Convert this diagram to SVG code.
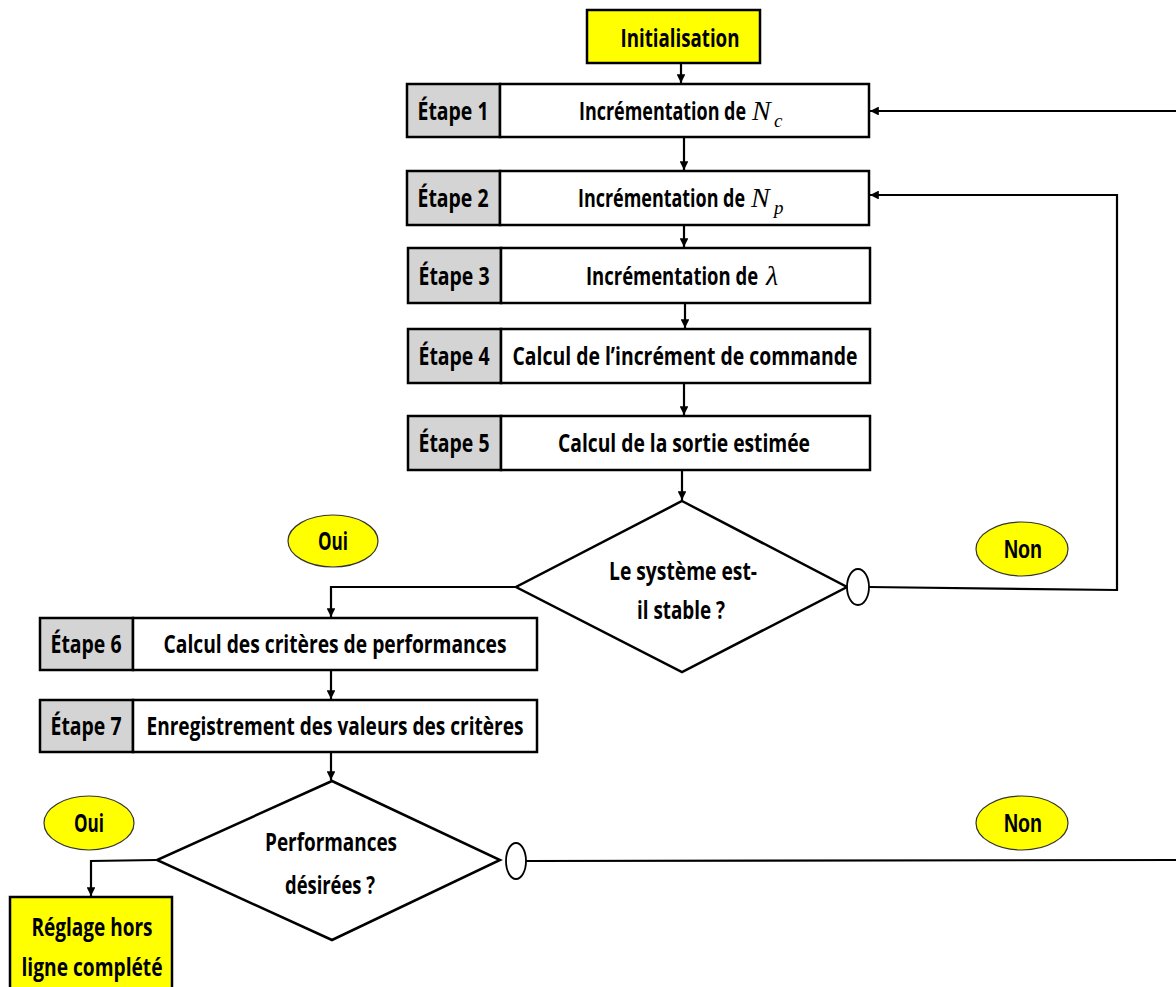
<svg xmlns="http://www.w3.org/2000/svg" width="1176" height="987" viewBox="0 0 1176 987">
<style>
.t{font-family:"Open Sans","Liberation Sans",sans-serif;font-weight:bold;font-size:25px;fill:#000;text-anchor:middle}
.s{text-anchor:start}
.m{font-family:"Liberation Serif","DejaVu Serif",serif;font-style:italic;font-size:28px;fill:#000}
.ms{font-family:"Liberation Serif","DejaVu Serif",serif;font-style:italic;font-size:19px;fill:#000}
.g{fill:#d4d4d4;stroke:#000;stroke-width:2.5}
.w{fill:#fff;stroke:#000;stroke-width:2.5}
.y{fill:#ffff00;stroke:#000;stroke-width:2.5}
.e{fill:#ffff00;stroke:#333;stroke-width:1.2}
.c{fill:#fff;stroke:#000;stroke-width:1.8}
.l{fill:none;stroke:#000;stroke-width:2.2}
</style>
<defs>
<marker id="a" viewBox="0 0 10 10" refX="10" refY="5" markerWidth="4" markerHeight="4" orient="auto" markerUnits="strokeWidth">
<path d="M0,0 L10,5 L0,10 z" fill="#000"/>
</marker>
</defs>

<g id="connectors">
<line class="l" x1="681" y1="63" x2="681" y2="83" marker-end="url(#a)"/>
<line class="l" x1="684" y1="137" x2="684" y2="170" marker-end="url(#a)"/>
<line class="l" x1="684" y1="225" x2="684" y2="247" marker-end="url(#a)"/>
<line class="l" x1="685" y1="303" x2="685" y2="328" marker-end="url(#a)"/>
<line class="l" x1="684" y1="383" x2="684" y2="415" marker-end="url(#a)"/>
<line class="l" x1="682" y1="470" x2="682" y2="500" marker-end="url(#a)"/>
<polyline class="l" points="869,587 1117,590 1117,195 870,195" marker-end="url(#a)"/>
<line class="l" x1="1176" y1="111" x2="870" y2="111" marker-end="url(#a)"/>
<polyline class="l" points="516,587 331,587 331,617" marker-end="url(#a)"/>
<line class="l" x1="331" y1="670" x2="331" y2="699" marker-end="url(#a)"/>
<line class="l" x1="331" y1="752" x2="331" y2="780" marker-end="url(#a)"/>
<polyline class="l" points="157,860 91,861 91,896" marker-end="url(#a)"/>
<line class="l" x1="526" y1="861" x2="1176" y2="860"/>
</g>

<g id="init">
<rect class="y" x="587" y="10" width="173" height="53"/>
<text class="t" x="680" y="47" textLength="119" lengthAdjust="spacingAndGlyphs">Initialisation</text>
</g>

<g id="etape1">
<rect class="g" x="407" y="84" width="93" height="53"/>
<rect class="w" x="500" y="84" width="369" height="53"/>
<text class="t" x="453" y="120" textLength="71" lengthAdjust="spacingAndGlyphs">Étape 1</text>
<text class="t s" transform="translate(579,120) scale(0.72,1)" x="0" y="0" textLength="232" lengthAdjust="spacingAndGlyphs">Incrémentation de</text>
<text class="m s" x="752" y="120">N</text>
<text class="ms s" x="774" y="127">c</text>
</g>

<g id="etape2">
<rect class="g" x="407" y="171" width="93" height="54"/>
<rect class="w" x="500" y="171" width="369" height="54"/>
<text class="t" x="453" y="207" textLength="71" lengthAdjust="spacingAndGlyphs">Étape 2</text>
<text class="t s" transform="translate(578,207) scale(0.72,1)" x="0" y="0" textLength="232" lengthAdjust="spacingAndGlyphs">Incrémentation de</text>
<text class="m s" x="751" y="207">N</text>
<text class="ms s" x="774" y="214">p</text>
</g>

<g id="etape3">
<rect class="g" x="408" y="248" width="93" height="55"/>
<rect class="w" x="501" y="248" width="369" height="55"/>
<text class="t" x="454" y="285" textLength="71" lengthAdjust="spacingAndGlyphs">Étape 3</text>
<text class="t s" transform="translate(586,285) scale(0.745,1)" x="0" y="0" textLength="231" lengthAdjust="spacingAndGlyphs">Incrémentation de</text>
<text class="m s" x="766" y="285">λ</text>
</g>

<g id="etape4">
<rect class="g" x="408" y="329" width="93" height="54"/>
<rect class="w" x="501" y="329" width="369" height="54"/>
<text class="t" x="454" y="365" textLength="71" lengthAdjust="spacingAndGlyphs">Étape 4</text>
<text class="t" x="685" y="365" textLength="345" lengthAdjust="spacingAndGlyphs">Calcul de l’incrément de commande</text>
</g>

<g id="etape5">
<rect class="g" x="408" y="416" width="93" height="54"/>
<rect class="w" x="501" y="416" width="369" height="54"/>
<text class="t" x="454" y="452" textLength="71" lengthAdjust="spacingAndGlyphs">Étape 5</text>
<text class="t" x="684" y="452" textLength="252" lengthAdjust="spacingAndGlyphs">Calcul de la sortie estimée</text>
</g>

<g id="decision1">
<polygon class="w" points="682,501 847,587 682,672 516,587"/>
<text class="t" x="683" y="580" textLength="148" lengthAdjust="spacingAndGlyphs">Le système est-</text>
<text class="t" x="681" y="619" textLength="88" lengthAdjust="spacingAndGlyphs">il stable ?</text>
<ellipse class="c" cx="858" cy="587" rx="11" ry="18"/>
</g>

<g id="oui1">
<ellipse class="e" cx="333" cy="541" rx="45" ry="26"/>
<text class="t" x="333" y="550" textLength="30" lengthAdjust="spacingAndGlyphs">Oui</text>
</g>

<g id="non1">
<ellipse class="e" cx="1022" cy="549" rx="46" ry="27"/>
<text class="t" x="1023" y="558" textLength="38" lengthAdjust="spacingAndGlyphs" style="font-family:'Liberation Sans',sans-serif">Non</text>
</g>

<g id="etape6">
<rect class="g" x="40" y="618" width="93" height="52"/>
<rect class="w" x="133" y="618" width="404" height="52"/>
<text class="t" x="86" y="653" textLength="71" lengthAdjust="spacingAndGlyphs">Étape 6</text>
<text class="t" x="335" y="653" textLength="343" lengthAdjust="spacingAndGlyphs">Calcul des critères de performances</text>
</g>

<g id="etape7">
<rect class="g" x="40" y="700" width="93" height="52"/>
<rect class="w" x="133" y="700" width="404" height="52"/>
<text class="t" x="86" y="735" textLength="71" lengthAdjust="spacingAndGlyphs">Étape 7</text>
<text class="t" x="335" y="735" textLength="377" lengthAdjust="spacingAndGlyphs">Enregistrement des valeurs des critères</text>
</g>

<g id="decision2">
<polygon class="w" points="332,781 500,860 332,940 157,860"/>
<text class="t" x="331" y="851" textLength="132" lengthAdjust="spacingAndGlyphs">Performances</text>
<text class="t" x="330" y="894" textLength="90" lengthAdjust="spacingAndGlyphs">désirées ?</text>
<ellipse class="c" cx="516" cy="861" rx="10" ry="18"/>
</g>

<g id="oui2">
<ellipse class="e" cx="89" cy="823" rx="45" ry="27"/>
<text class="t" x="89" y="832" textLength="30" lengthAdjust="spacingAndGlyphs">Oui</text>
</g>

<g id="non2">
<ellipse class="e" cx="1022" cy="823" rx="46" ry="27"/>
<text class="t" x="1023" y="832" textLength="38" lengthAdjust="spacingAndGlyphs" style="font-family:'Liberation Sans',sans-serif">Non</text>
</g>

<g id="fin">
<rect class="y" x="10" y="897" width="162" height="95"/>
<text class="t" x="92" y="936" textLength="121" lengthAdjust="spacingAndGlyphs">Réglage hors</text>
<text class="t" x="92" y="976" textLength="141" lengthAdjust="spacingAndGlyphs">ligne complété</text>
</g>
</svg>
